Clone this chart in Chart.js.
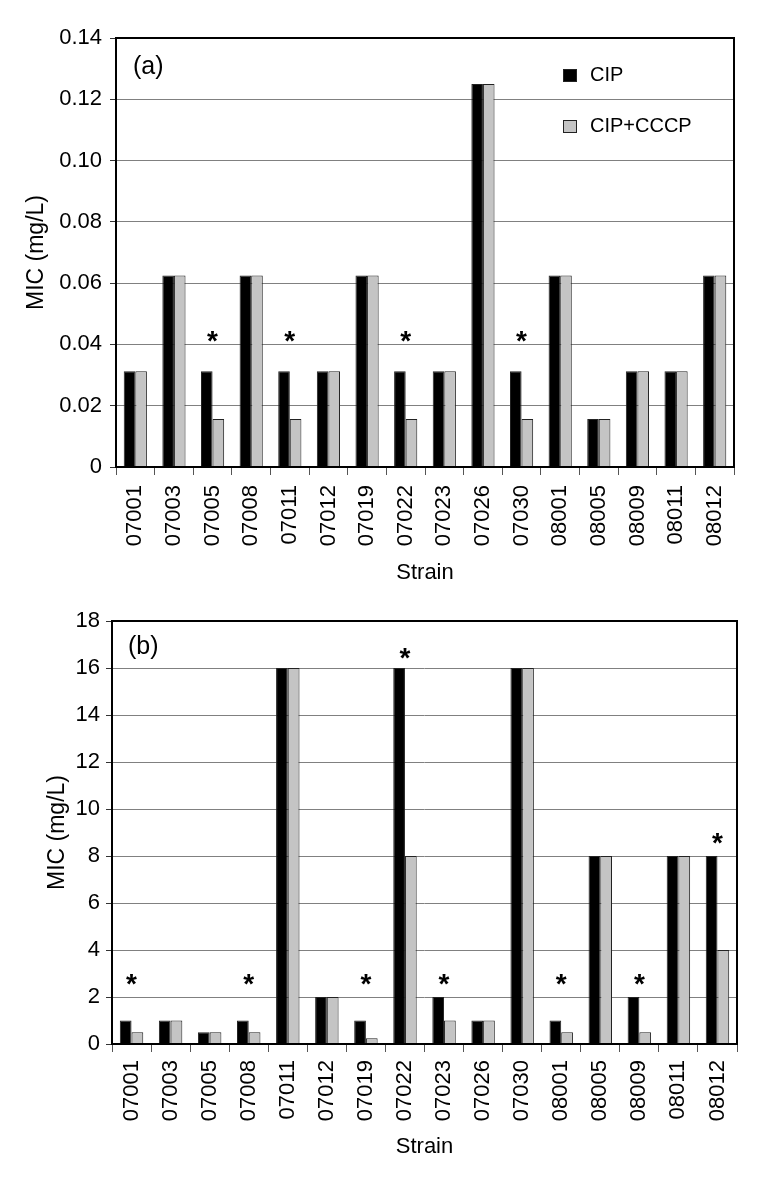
<!DOCTYPE html>
<html>
<head>
<meta charset="utf-8">
<script src="https://cdn.jsdelivr.net/npm/chart.js@4.4.1/dist/chart.umd.min.js"></script>
<style>
  html, body { margin: 0; padding: 0; background: #fff; }
  canvas { display: block; }
</style>
</head>
<body>
<canvas id="chartA" width="776" height="590"></canvas>
<canvas id="chartB" width="776" height="589"></canvas>
<script>
// Strains (same order in both panels)
const strains = ['07001', '07003', '07005', '07008', '07011', '07012', '07019', '07022',
                 '07023', '07026', '07030', '08001', '08005', '08009', '08011', '08012'];

// Panel (a) MIC values, mg/L
const cipA  = [0.03125, 0.0625, 0.03125, 0.0625, 0.03125, 0.03125, 0.0625, 0.03125,
               0.03125, 0.125, 0.03125, 0.0625, 0.015625, 0.03125, 0.03125, 0.0625];
const ccpA  = [0.03125, 0.0625, 0.015625, 0.0625, 0.015625, 0.03125, 0.0625, 0.015625,
               0.03125, 0.125, 0.015625, 0.0625, 0.015625, 0.03125, 0.03125, 0.0625];
// height (data units) where an asterisk is marked, null = none
const starsA = [null, null, 0.043, null, 0.043, null, null, 0.043,
                null, null, 0.043, null, null, null, null, null];
const yTicksA = [0, 0.02, 0.04, 0.06, 0.08, 0.10, 0.12, 0.14];

// Panel (b) MIC values, mg/L
const cipB  = [1, 1, 0.5, 1, 16, 2, 1, 16, 2, 1, 16, 1, 8, 2, 8, 8];
const ccpB  = [0.5, 1, 0.5, 0.5, 16, 2, 0.25, 8, 1, 1, 16, 0.5, 8, 0.5, 8, 4];
const starsB = [2.8, null, null, 2.8, null, null, 2.8, 16.7,
                2.8, null, null, 2.8, null, 2.8, null, 8.8];
const yTicksB = [0, 2, 4, 6, 8, 10, 12, 14, 16, 18];

const seriesNames = ['CIP', 'CIP+CCCP'];
const seriesColors = ['#000000', '#c4c4c4'];

Chart.defaults.font.family = '"Liberation Sans", Arial, sans-serif';
Chart.defaults.color = '#000';

// frame, asterisks, panel tag and legend
const extras = {
    id: 'extras',
    afterDatasetsDraw(chart, args, opts) {
        const ctx = chart.ctx;
        const a = chart.chartArea;
        const xs = chart.scales.x, ys = chart.scales.y;
        ctx.save();
        ctx.strokeStyle = '#000';
        ctx.lineWidth = 2;
        ctx.strokeRect(a.left, a.top, a.right - a.left, a.bottom - a.top);

        ctx.fillStyle = '#000';
        ctx.font = 'bold 28px "Liberation Sans", Arial, sans-serif';
        ctx.textAlign = 'center';
        ctx.textBaseline = 'alphabetic';
        opts.stars.forEach(function (v, i) {
            if (v === null) return;
            ctx.fillText('*', xs.getPixelForValue(i), ys.getPixelForValue(v) + 15);
        });

        ctx.font = '25px "Liberation Sans", Arial, sans-serif';
        ctx.textAlign = 'left';
        ctx.textBaseline = 'middle';
        ctx.fillText(opts.tag, a.left + opts.tagX, a.top + opts.tagY);

        if (opts.legend) {
            ctx.font = '20px "Liberation Sans", Arial, sans-serif';
            chart.data.datasets.forEach(function (ds, i) {
                const bx = a.left + 447, by = a.top + 31 + i * 51;
                ctx.fillStyle = ds.backgroundColor;
                ctx.fillRect(bx, by, 14, 13);
                ctx.strokeStyle = '#222';
                ctx.lineWidth = 1;
                ctx.strokeRect(bx + 0.5, by + 0.5, 13, 12);
                ctx.fillStyle = '#000';
                ctx.fillText(ds.label, bx + 27, by + 6);
            });
        }
        ctx.restore();
    }
};

function makeChart(id, cip, ccp, stars, yTicks, o) {
    return new Chart(document.getElementById(id), {
        type: 'bar',
        data: {
            labels: strains,
            datasets: [cip, ccp].map(function (vals, i) {
                return {
                    label: seriesNames[i],
                    data: vals,
                    backgroundColor: seriesColors[i],
                    borderColor: '#222',
                    borderWidth: 1,
                    categoryPercentage: 0.6,
                    barPercentage: 1.0
                };
            })
        },
        options: {
            responsive: false,
            animation: false,
            layout: { padding: o.padding },
            plugins: {
                legend: { display: false },
                tooltip: { enabled: false },
                extras: { stars: stars, tag: o.tag, tagX: o.tagX, tagY: o.tagY, legend: o.legend }
            },
            scales: {
                x: {
                    grid: { drawOnChartArea: false, tickLength: 8, tickColor: '#555', offset: true },
                    border: { display: false },
                    ticks: { font: { size: 22 }, minRotation: 90, maxRotation: 90, padding: o.xPad, autoSkip: false },
                    title: { display: true, text: 'Strain', font: { size: 22 }, padding: { top: 4, bottom: 4 } },
                    afterFit: function (s) { s.height = o.xHeight; }
                },
                y: {
                    min: yTicks[0],
                    max: yTicks[yTicks.length - 1],
                    grid: { color: '#808080', tickLength: 6, tickColor: '#333' },
                    border: { display: false },
                    ticks: {
                        stepSize: yTicks[1] - yTicks[0],
                        font: { size: 22 },
                        padding: o.yPad,
                        callback: o.fmt
                    },
                    title: { display: true, text: 'MIC (mg/L)', font: { size: 23 }, padding: { top: o.titlePad, bottom: 0 } },
                    afterFit: function (s) { s.width = o.yWidth; }
                }
            }
        },
        plugins: [extras]
    });
}

makeChart('chartA', cipA, ccpA, starsA, yTicksA, {
    padding: { top: 38, right: 42, left: 0, bottom: 0 },
    xHeight: 123, yWidth: 116, xPad: 10, yPad: 8, titlePad: 23,
    tag: '(a)', tagX: 17, tagY: 29, legend: true,
    fmt: function (v) { return v === 0 ? '0' : v.toFixed(2); }
});

makeChart('chartB', cipB, ccpB, starsB, yTicksB, {
    padding: { top: 31, right: 39, left: 0, bottom: 15 },
    xHeight: 120, yWidth: 112, xPad: 8, yPad: 6, titlePad: 44,
    tag: '(b)', tagX: 16, tagY: 26, legend: false,
    fmt: function (v) { return String(v); }
});
</script>
</body>
</html>
